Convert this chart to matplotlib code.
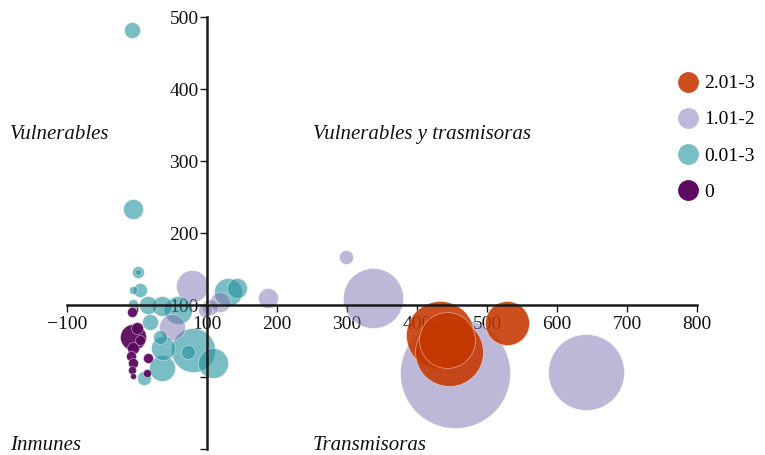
import matplotlib
matplotlib.use("Agg")
import matplotlib.pyplot as plt
from matplotlib.lines import Line2D
from matplotlib.colors import to_rgba
import numpy as np

# datos
x_vals = [-6, -7, -6, -9, -6, -7, -6, 16, 14, 0, 4,
          -7, -6, 1, 1, 4, -6, -6, 16, 36, 59, 130, 143, 80, 73, 109, 36, 37, 33, 10, 19,
          79, 50, 119, 104, 97, 187, 299, 337, 454, 641,
          433, 446, 443, 529]
y_vals = [56, 90, 40, 29, 19, 10, 1, 26, 6, 68, 51,
          482, 233, 146, 146, 121, 121, 101, 100, 99, 93, 118, 124, 38, 35, 19, 13, 40, 56, -1, 76,
          126, 69, 104, 97, 93, 110, 167, 110, 6, 7,
          58, 35, 51, 75]
peso = [169, 25, 36, 25, 25, 16, 9, 25, 16, 36, 25,
        64, 100, 36, 9, 49, 16, 25, 81, 100, 196, 196, 100, 484, 49, 225, 169, 144, 49, 49, 64,
        256, 169, 100, 64, 49, 100, 49, 900, 3025, 1444,
        1156, 1156, 784, 484]
grupo = ["0"] * 11 + ["0.01-3"] * 20 + ["1.01-2"] * 10 + ["2.01-3"] * 4

categorias = ["2.01-3", "1.01-2", "0.01-3", "0"]
# color visible sobre blanco (leyenda)
colores = {"2.01-3": "#CB4F1F", "1.01-2": "#BEB9D8", "0.01-3": "#7BBDC4", "0": "#5B0A5F"}
# color + alpha para que los solapes oscurezcan (parecido a multiply)
relleno = {"2.01-3": ("#C43700", 0.88), "1.01-2": ("#7D73B1", 0.5),
           "0.01-3": ("#23919D", 0.6), "0": ("#5B0A5F", 0.95)}

xticks = [-100, 0, 100, 200, 300, 400, 500, 600, 700, 800]
yticks = [-100, 0, 100, 200, 300, 400, 500]

plt.rcParams["font.family"] = ["Liberation Serif", "DejaVu Serif"]

W, H = 765, 455
fig = plt.figure(figsize=(W / 100, H / 100), dpi=100)
ax = fig.add_axes([67 / W, (H - 449) / H, 630 / W, 432 / H])
ax.set_xlim(-100, 800)
ax.set_ylim(-100, 500)

# burbujas: las grandes primero para que las chicas queden encima
orden = np.argsort(peso)[::-1]
for i in orden:
    c, a = relleno[grupo[i]]
    ax.scatter(x_vals[i], y_vals[i], s=peso[i] * 2.07, facecolors=[to_rgba(c, a)],
               edgecolors=[(1, 1, 1, 0.45)], linewidths=0.6, zorder=2)

for s in ["top", "right"]:
    ax.spines[s].set_visible(False)
ax.spines["left"].set_position(("data", 100))
ax.spines["bottom"].set_position(("data", 100))
for s in ["left", "bottom"]:
    ax.spines[s].set_linewidth(1.8)
    ax.spines[s].set_color("#1a1a1a")
    ax.spines[s].set_zorder(3)

ax.set_xticks(xticks)
ax.set_xticklabels(["\u2212100", "", "100", "200", "300", "400", "500", "600", "700", "800"])
ax.set_yticks(yticks)
ax.set_yticklabels(["", "", "100", "200", "300", "400", "500"])
ax.tick_params(axis="both", direction="out", length=5, width=1, color="#1a1a1a",
               labelsize=14, labelcolor="#111111")
ax.tick_params(axis="x", pad=3)
ax.tick_params(axis="y", pad=1)

# etiquetas de cuadrantes
txt = dict(fontsize=15, style="italic", color="#111111", va="center")
fig.text(10 / W, 1 - 134 / H, "Vulnerables", **txt)
fig.text(313 / W, 1 - 134 / H, "Vulnerables y trasmisoras", **txt)
fig.text(10 / W, 1 - 445 / H, "Inmunes", **txt)
fig.text(313 / W, 1 - 445 / H, "Transmisoras", **txt)

handles = [Line2D([], [], marker="o", linestyle="", markersize=14,
                  markerfacecolor=colores[c], markeredgecolor=colores[c]) for c in categorias]
fig.legend(handles, categorias, loc="upper left", bbox_to_anchor=(670 / W, 1 - 67 / H),
           frameon=False, fontsize=14, handletextpad=0.35, labelspacing=0.95,
           handlelength=1.0, borderaxespad=0)

fig.savefig("out.png", dpi=100)
